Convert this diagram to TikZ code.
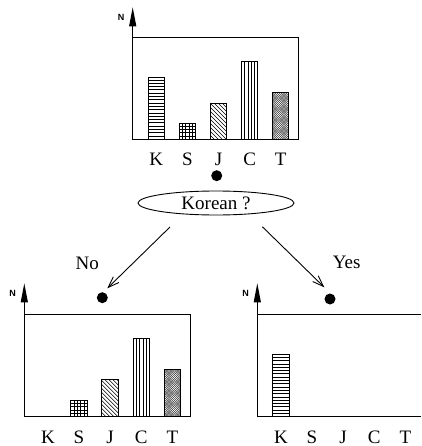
\documentclass[tikz,border=0pt]{standalone}
\usepackage{fontspec}
\setmainfont{Liberation Serif}
\newfontfamily\axisfont{Liberation Sans}
\usetikzlibrary{arrows.meta}
\usetikzlibrary{shapes.geometric}
\tikzstyle{chart}=[x=1pt, y=1pt, font=\fontsize{19}{22}\selectfont]
\tikzstyle{frame}=[draw, line width=1pt]
\tikzstyle{axis}=[-{Triangle[length=19pt, width=7pt]}, line width=1pt]
\tikzstyle{bar}=[anchor=south, inner sep=0pt, minimum width=16pt]
\tikzstyle{hatch}=[line width=0.7pt]
\tikzstyle{lab}=[inner sep=0pt, anchor=base]
\tikzstyle{axlabel}=[inner sep=0pt, font=\axisfont\bfseries\fontsize{9}{10}\selectfont]
\tikzstyle{dot}=[circle, fill, inner sep=0pt, minimum size=11pt]
\tikzstyle{question}=[ellipse, draw, line width=0.9pt, minimum width=156pt, minimum height=24pt, inner sep=0pt]
\tikzstyle{edge}=[-{Straight Barb[length=11pt, width=8pt]}, line width=0.9pt]
\tikzstyle{edgeLabel}=[inner sep=0pt]
% fills for the bars, outline drawn last
\newcommand{\barOutline}[1]{\draw[line width=1pt] (#1.south west) rectangle (#1.north east);}
\newcommand{\fillH}[1]{\begin{scope}\clip (#1.south west) rectangle (#1.north east);
	\foreach \d in {0,3.3,...,80} \draw[hatch] ([yshift=\d pt]#1.south west) -- ++(16,0);\end{scope}\barOutline{#1}}
\newcommand{\fillV}[1]{\begin{scope}\clip (#1.south west) rectangle (#1.north east);
	\foreach \d in {0,3.3,...,16} \draw[hatch] ([xshift=\d pt]#1.south west) -- ++(0,80);\end{scope}\barOutline{#1}}
\newcommand{\fillG}[1]{\fillH{#1}\fillV{#1}}
\newcommand{\fillD}[1]{\begin{scope}\clip (#1.south west) rectangle (#1.north east);
	\foreach \d in {0,4,...,60} \draw[hatch, line width=0.5pt] ([xshift=\d pt]#1.south west) -- ++(-60,60);\end{scope}\barOutline{#1}}
\newcommand{\fillX}[1]{\begin{scope}\clip (#1.south west) rectangle (#1.north east);
	\foreach \d in {0,2.2,...,70} {\draw[hatch, line width=0.3pt, black!80] ([xshift=\d pt]#1.south west) -- ++(-60,60);
	\draw[hatch, line width=0.3pt, black!80] ([xshift=-\d pt]#1.south east) -- ++(60,60);}\end{scope}\barOutline{#1}}

\begin{document}
\begin{tikzpicture}[chart]
	\useasboundingbox (0,0) rectangle (421,-446);
	% top chart
	\draw[frame] (132.7,-139.3) rectangle (298.7,-37.5);
	\draw[axis] (132.7,-139.3) -- (132.7,-7.3);
	\draw (121,-17) node[axlabel] (n1) {N};
	\draw (156.3,-139.3) node[bar, minimum height=61pt] (k1) {};
	\draw (187.4,-139.3) node[bar, minimum height=15pt] (s1) {};
	\draw (218.5,-139.3) node[bar, minimum height=35.6pt] (j1) {};
	\draw (249.6,-139.3) node[bar, minimum height=77pt] (c1) {};
	\draw (280.7,-139.3) node[bar, minimum height=46pt] (t1) {};
	\fillH{k1} \fillG{s1} \fillD{j1} \fillV{c1} \fillX{t1}
	\draw (156.3,-165.7) node[lab] (lk1) {K};
	\draw (187.4,-165.7) node[lab] (ls1) {S};
	\draw (218.5,-165.7) node[lab] (lj1) {J};
	\draw (249.6,-165.7) node[lab] (lc1) {C};
	\draw (280.7,-165.7) node[lab] (lt1) {T};
	\draw (216.7,-175.7) node[dot] (d1) {};
	\draw (216,-203) node[question] (q) {Korean ?};
	%
	\draw[frame] (24.3,-416.7) rectangle (190.3,-314);
	\draw[axis] (24.3,-416.7) -- (24.3,-283.3);
	\draw (12.6,-293) node[axlabel] (n2) {N};
	\draw (79,-416.7) node[bar, minimum height=15.7pt] (s2) {};
	\draw (110.1,-416.7) node[bar, minimum height=36.4pt] (j2) {};
	\draw (141.2,-416.7) node[bar, minimum height=77.4pt] (c2) {};
	\draw (172.3,-416.7) node[bar, minimum height=46.4pt] (t2) {};
	\fillG{s2} \fillD{j2} \fillV{c2} \fillX{t2}
	\draw (47.9,-443) node[lab] (lk2) {K};
	\draw (79,-443) node[lab] (ls2) {S};
	\draw (110.1,-443) node[lab] (lj2) {J};
	\draw (141.2,-443) node[lab] (lc2) {C};
	\draw (172.3,-443) node[lab] (lt2) {T};
	\draw (102.3,-297.7) node[dot] (d2) {};
	%
	\draw[frame] (421,-314) -- (257.3,-314);
	\draw[frame] (257.3,-416.7) -- (421,-416.7);
	\draw[axis] (257.3,-416.7) -- (257.3,-283.3);
	\draw (245.6,-293) node[axlabel] (n3) {N};
	\draw (280.9,-416.7) node[bar, minimum height=61.7pt] (k3) {};
	\fillH{k3}
	\draw (280.9,-443) node[lab] (lk3) {K};
	\draw (312,-443) node[lab] (ls3) {S};
	\draw (343.1,-443) node[lab] (lj3) {J};
	\draw (374.2,-443) node[lab] (lc3) {C};
	\draw (405.3,-443) node[lab] (lt3) {T};
	\draw (330,-299) node[dot] (d3) {};
	%
	\coordinate (noFrom) at (170,-227);
	\coordinate (noTo) at (107.3,-288.3);
	\coordinate (yesFrom) at (262.3,-226.7);
	\coordinate (yesTo) at (324.3,-287.3);
	\draw[edge] (noFrom) -- (noTo);
	\draw[edge] (yesFrom) -- (yesTo);
	\draw (87.3,-263.3) node[edgeLabel] (no) {No};
	\draw (346.7,-262.7) node[edgeLabel] (yes) {Yes};
\end{tikzpicture}
\end{document}
